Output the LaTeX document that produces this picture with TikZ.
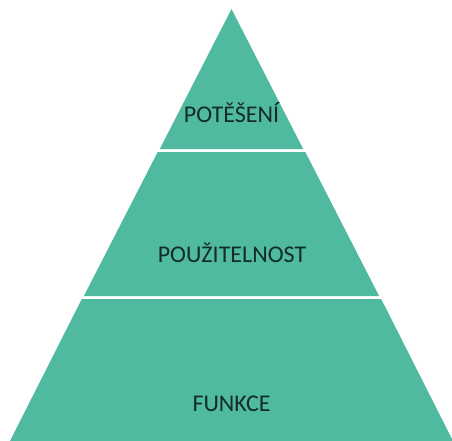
\documentclass[tikz,border=0pt]{standalone}
\usepackage{fontspec}
\setmainfont{Carlito}
\definecolor{pyrteal}{RGB}{80,186,160}
\definecolor{pyrtext}{RGB}{18,44,38}

\tikzstyle{level} = [fill=pyrteal, draw=none]
\tikzstyle{label} = [anchor=base, inner sep=0pt, text=pyrtext, font=\fontsize{24}{28}\selectfont]

\begin{document}
\begin{tikzpicture}[x=1pt, y=-1pt]
      \useasboundingbox (0,0) rectangle (452,441);
      % apex (231.5,9), base from 10 to 453
      \coordinate (apex) at (231.5,9);
      \fill [level] (apex) -- (303.2,149) -- (159.8,149) -- cycle;
      \fill [level] (157.7,152) -- (305.3,152) -- (379.1,296) -- (83.9,296) -- cycle;
      \fill [level] (81.8,299) -- (381.2,299) -- (453,441) -- (10,441) -- cycle;

      \node (top) [label] at (231.5,123) {POTĚŠENÍ};
      \node (mid) [label] at (232,262) {POUŽITELNOST};
      \node (bot) [label] at (231.5,411.5) {FUNKCE};
    \end{tikzpicture}
\end{document}
